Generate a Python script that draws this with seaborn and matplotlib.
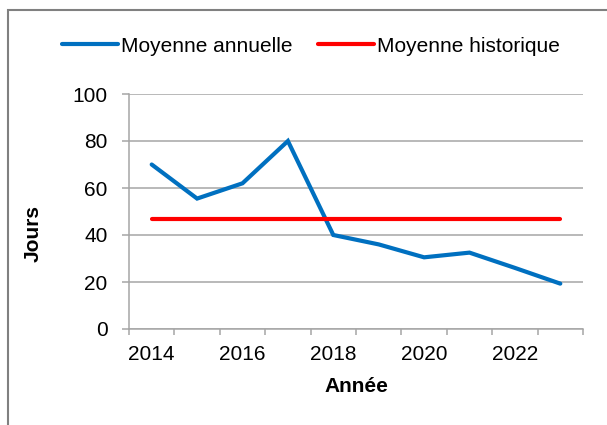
import matplotlib
matplotlib.use("Agg")
import matplotlib.pyplot as plt
import seaborn as sns
import pandas as pd
import numpy as np
from matplotlib.patches import Rectangle
from matplotlib.ticker import FixedLocator
from matplotlib.lines import Line2D

years = [2014, 2015, 2016, 2017, 2018, 2019, 2020, 2021, 2022, 2023]
annual_mean = [70, 55.5, 62, 80, 40, 36, 30.5, 32.5, 26, 19.3]
historical_mean = [47] * len(years)
tick_labels = ["2014", "2016", "2018", "2020", "2022"]
y_ticks = [0, 20, 40, 60, 80, 100]

sns.set_style("white")
plt.rcParams["font.family"] = ["Liberation Sans", "DejaVu Sans"]
plt.rcParams["text.color"] = "black"
plt.rcParams["axes.labelcolor"] = "black"
plt.rcParams["xtick.color"] = "black"
plt.rcParams["ytick.color"] = "black"

BLUE = "#0070C0"
RED = "#FF0000"
GRID = "#A6A6A6"
FS = 15

fig = plt.figure(figsize=(6.07, 4.25), dpi=100)
W, H = 607, 425
ax = fig.add_axes([129 / W, 1 - 329 / H, (583 - 129) / W, (329 - 94) / H])

pos = np.arange(len(years))
df = pd.DataFrame({
    "pos": np.concatenate([pos, pos]),
    "val": annual_mean + historical_mean,
    "serie": ["Moyenne annuelle"] * len(years) + ["Moyenne historique"] * len(years),
})
sns.lineplot(data=df, x="pos", y="val", hue="serie",
             palette={"Moyenne annuelle": BLUE, "Moyenne historique": RED},
             linewidth=3.0, ax=ax, legend=False, solid_capstyle="round",
             solid_joinstyle="miter")

ax.set_xlim(-0.5, len(years) - 0.5)
ax.set_ylim(0, 100)
ax.set_yticks(y_ticks)
ax.set_yticklabels([str(v) for v in y_ticks], fontsize=FS)
ax.yaxis.grid(True, color=GRID, linewidth=1.1)
ax.set_axisbelow(True)

ax.set_xticks([0, 2, 4, 6, 8])
ax.set_xticklabels(tick_labels, fontsize=FS)
ax.xaxis.set_minor_locator(FixedLocator(np.arange(-0.5, len(years), 1.0)))
ax.tick_params(axis="x", which="major", bottom=False, length=0, pad=11.5)
ax.tick_params(axis="x", which="minor", bottom=True, length=4, width=1.1,
               color=GRID, direction="out")
ax.tick_params(axis="y", left=True, length=5, width=1.1, color=GRID,
               labelcolor="black", direction="out", pad=10.5)

for s in ["top", "right"]:
    ax.spines[s].set_visible(False)
for s in ["left", "bottom"]:
    ax.spines[s].set_color(GRID)
    ax.spines[s].set_linewidth(1.1)

ax.set_xlabel("Année", fontsize=FS, fontweight="bold")
ax.set_ylabel("Jours", fontsize=FS, fontweight="bold")
ax.xaxis.set_label_coords(0.5, -(387 - 329) / (329 - 94))
ax.yaxis.set_label_coords(-(129 - 33) / (583 - 129), 1 - (234 - 94) / (329 - 94))
ax.xaxis.label.set_va("center")
ax.yaxis.label.set_va("center")

handles = [Line2D([0], [0], color=BLUE, linewidth=3.0, solid_capstyle="round"),
           Line2D([0], [0], color=RED, linewidth=3.0, solid_capstyle="round")]
fig.legend(handles, ["Moyenne annuelle", "Moyenne historique"],
           loc="center", bbox_to_anchor=(311 / W, 1 - 46 / H), ncol=2,
           frameon=False, fontsize=FS, handlelength=2.65, handletextpad=0.15,
           columnspacing=1.25)

fig.patches.append(Rectangle((8 / W, -0.1), 1.2, (1 - 10 / H) + 0.1,
                             transform=fig.transFigure, fill=False,
                             edgecolor="#808080", linewidth=1.5))

fig.savefig("out.png", dpi=100)
